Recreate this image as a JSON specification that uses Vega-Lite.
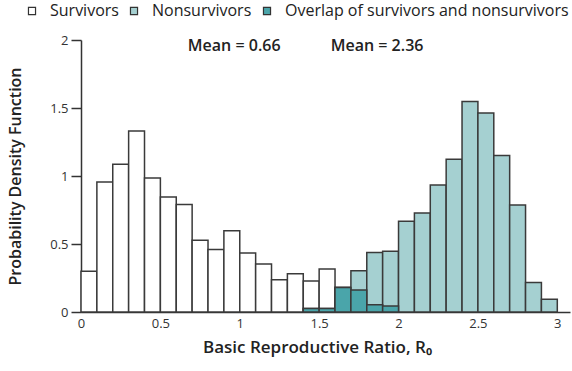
{
  "$schema": "https://vega.github.io/schema/vega-lite/v6.json",
  "width": 489,
  "height": 272,
  "autosize": "none",
  "padding": {"left": 81, "top": 40, "right": 2, "bottom": 59},
  "background": "white",
  "config": {
    "font": "Open Sans",
    "view": {"stroke": null},
    "axis": {"grid": false, "domainColor": "#333333", "domainWidth": 1.5, "labelColor": "#333333", "titleColor": "#222222", "labelFont": "Open Sans", "titleFont": "Open Sans"}
  },
  "datasets": {
    "bins": [
      {"x0": 0.0, "x1": 0.1, "group": "Survivors", "density": 0.30},
      {"x0": 0.1, "x1": 0.2, "group": "Survivors", "density": 0.955},
      {"x0": 0.2, "x1": 0.3, "group": "Survivors", "density": 1.086},
      {"x0": 0.3, "x1": 0.4, "group": "Survivors", "density": 1.33},
      {"x0": 0.4, "x1": 0.5, "group": "Survivors", "density": 0.985},
      {"x0": 0.5, "x1": 0.6, "group": "Survivors", "density": 0.846},
      {"x0": 0.6, "x1": 0.7, "group": "Survivors", "density": 0.79},
      {"x0": 0.7, "x1": 0.8, "group": "Survivors", "density": 0.527},
      {"x0": 0.8, "x1": 0.9, "group": "Survivors", "density": 0.459},
      {"x0": 0.9, "x1": 1.0, "group": "Survivors", "density": 0.598},
      {"x0": 1.0, "x1": 1.1, "group": "Survivors", "density": 0.434},
      {"x0": 1.1, "x1": 1.2, "group": "Survivors", "density": 0.353},
      {"x0": 1.2, "x1": 1.3, "group": "Survivors", "density": 0.238},
      {"x0": 1.3, "x1": 1.4, "group": "Survivors", "density": 0.282},
      {"x0": 1.4, "x1": 1.5, "group": "Survivors", "density": 0.228},
      {"x0": 1.5, "x1": 1.6, "group": "Survivors", "density": 0.316},
      {"x0": 1.6, "x1": 1.7, "group": "Survivors", "density": 0.18},
      {"x0": 1.7, "x1": 1.8, "group": "Survivors", "density": 0.162},
      {"x0": 1.8, "x1": 1.9, "group": "Survivors", "density": 0.054},
      {"x0": 1.9, "x1": 2.0, "group": "Survivors", "density": 0.044},
      {"x0": 1.4, "x1": 1.5, "group": "Nonsurvivors", "density": 0.025},
      {"x0": 1.5, "x1": 1.6, "group": "Nonsurvivors", "density": 0.025},
      {"x0": 1.6, "x1": 1.7, "group": "Nonsurvivors", "density": 0.18},
      {"x0": 1.7, "x1": 1.8, "group": "Nonsurvivors", "density": 0.304},
      {"x0": 1.8, "x1": 1.9, "group": "Nonsurvivors", "density": 0.437},
      {"x0": 1.9, "x1": 2.0, "group": "Nonsurvivors", "density": 0.446},
      {"x0": 2.0, "x1": 2.1, "group": "Nonsurvivors", "density": 0.667},
      {"x0": 2.1, "x1": 2.2, "group": "Nonsurvivors", "density": 0.728},
      {"x0": 2.2, "x1": 2.3, "group": "Nonsurvivors", "density": 0.934},
      {"x0": 2.3, "x1": 2.4, "group": "Nonsurvivors", "density": 1.123},
      {"x0": 2.4, "x1": 2.5, "group": "Nonsurvivors", "density": 1.547},
      {"x0": 2.5, "x1": 2.6, "group": "Nonsurvivors", "density": 1.463},
      {"x0": 2.6, "x1": 2.7, "group": "Nonsurvivors", "density": 1.15},
      {"x0": 2.7, "x1": 2.8, "group": "Nonsurvivors", "density": 0.787},
      {"x0": 2.8, "x1": 2.9, "group": "Nonsurvivors", "density": 0.216},
      {"x0": 2.9, "x1": 3.0, "group": "Nonsurvivors", "density": 0.093},
      {"x0": 1.4, "x1": 1.5, "group": "Overlap of survivors and nonsurvivors", "density": 0.025},
      {"x0": 1.5, "x1": 1.6, "group": "Overlap of survivors and nonsurvivors", "density": 0.025},
      {"x0": 1.6, "x1": 1.7, "group": "Overlap of survivors and nonsurvivors", "density": 0.18},
      {"x0": 1.7, "x1": 1.8, "group": "Overlap of survivors and nonsurvivors", "density": 0.162},
      {"x0": 1.8, "x1": 1.9, "group": "Overlap of survivors and nonsurvivors", "density": 0.054},
      {"x0": 1.9, "x1": 2.0, "group": "Overlap of survivors and nonsurvivors", "density": 0.044}
    ],
    "means": [
      {"x": 0.965, "y": 1.955, "label": "Mean = 0.66"},
      {"x": 1.865, "y": 1.955, "label": "Mean = 2.36"}
    ]
  },
  "layer": [
    {
      "data": {"name": "bins"},
      "mark": {"type": "bar", "stroke": "#3a3a3a", "strokeWidth": 1.5},
      "encoding": {
        "x": {"field": "x0", "type": "quantitative", "scale": {"domain": [0, 3.08], "nice": false, "zero": false},
          "axis": {"values": [0, 0.5, 1, 1.5, 2, 2.5, 3], "format": "~g", "ticks": false, "labelPadding": 5, "labelFontSize": 13, "title": "Basic Reproductive Ratio, R₀", "titleFontSize": 17, "titleFontWeight": 600, "titlePadding": 9, "titleX": 236, "labelFlush": false}},
        "x2": {"field": "x1"},
        "y": {"field": "density", "type": "quantitative", "stack": null, "scale": {"domain": [0, 2], "nice": false},
          "axis": {"values": [0, 0.5, 1, 1.5, 2], "format": "~g", "tickSize": 10, "tickColor": "#333333", "tickWidth": 1.5, "labelFontSize": 13, "labelPadding": 3, "title": "Probability Density Function", "titleFontSize": 16, "titleFontWeight": 600, "titlePadding": 26}},
        "y2": {"datum": 0},
        "fill": {"field": "group", "type": "nominal",
          "scale": {"domain": ["Survivors", "Nonsurvivors", "Overlap of survivors and nonsurvivors"], "range": ["#ffffff", "#a5d0d1", "#4aa5aa"]},
          "legend": {"orient": "none", "legendX": -57, "legendY": -37, "direction": "horizontal", "title": null, "symbolType": "square", "symbolSize": 50, "symbolStrokeColor": "#333333", "symbolStrokeWidth": 1.2, "labelFontSize": 16, "labelFontWeight": 500, "labelColor": "#222222", "labelLimit": 400, "columnPadding": 7, "labelOffset": 10}}
      }
    },
    {
      "data": {"name": "means"},
      "mark": {"type": "text", "fontSize": 16, "fontWeight": 600, "color": "#222222", "align": "center", "baseline": "middle"},
      "encoding": {
        "x": {"field": "x", "type": "quantitative"},
        "y": {"field": "y", "type": "quantitative"},
        "text": {"field": "label"}
      }
    }
  ]
}
